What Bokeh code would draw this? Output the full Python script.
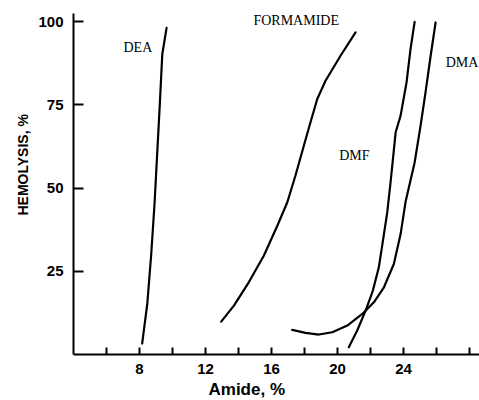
from bokeh.plotting import figure
from bokeh.models import FixedTicker, Label, Range1d, Title
from bokeh.embed import file_html
from bokeh.resources import INLINE

# ---- data ----
dea_x = [8.16, 8.47, 8.71, 8.91, 9.07, 9.23, 9.38, 9.64]
dea_y = [3.3, 15.2, 30.2, 45.3, 60.3, 75.3, 90.3, 98.2]

form_x = [12.95, 13.72, 14.62, 15.53, 16.35, 16.95, 17.45, 17.96, 18.36, 18.77, 19.27, 20.18, 21.09]
form_y = [9.9, 14.7, 21.7, 29.7, 38.7, 45.7, 53.8, 62.8, 69.8, 76.8, 82.3, 89.8, 96.8]

dmf_x = [20.68, 21.19, 21.70, 22.14, 22.50, 22.81, 23.01, 23.21, 23.52, 23.82, 24.18, 24.42, 24.67]
dmf_y = [2.2, 7.2, 13.2, 19.2, 26.2, 36.2, 42.7, 51.7, 66.8, 71.8, 81.8, 91.8, 100.0]

dma_x = [17.25, 18.06, 18.87, 19.68, 20.59, 21.50, 22.20, 22.81, 23.41, 23.82, 24.12,
         24.67, 25.03, 25.33, 25.64, 25.94]
dma_y = [7.4, 6.5, 6.0, 6.7, 8.7, 12.2, 15.7, 20.2, 27.2, 36.2, 45.9,
         57.7, 68.8, 78.8, 89.8, 99.8]

series_names = ["DEA", "FORMAMIDE", "DMF", "DMA"]
label_x = [7.03, 14.9, 20.1, 26.55]
label_y = [92.4, 100.3, 59.8, 87.7]

x_ticks = [6, 8, 10, 12, 14, 16, 18, 20, 22, 24, 26, 28]
x_tick_labels = ["", "8", "", "12", "", "16", "", "20", "", "24", "", ""]
y_ticks = [25, 50, 75, 100]
y_tick_labels = ["25", "50", "75", "100"]

x_title = "Amide, %"
y_title = "HEMOLYSIS, %"

# ---- figure ----
p = figure(width=479, height=400, output_backend="svg", toolbar_location=None,
           x_range=Range1d(4, 28.6), y_range=Range1d(0, 102.5),
           min_border_left=73, min_border_right=0, min_border_top=13,
           min_border_bottom=46)
p.outline_line_color = None
p.xgrid.visible = False
p.ygrid.visible = False

for ax in (p.xaxis[0], p.yaxis[0]):
    ax.axis_line_width = 2
    ax.axis_line_color = "black"
    ax.major_tick_line_width = 2
    ax.major_tick_line_color = "black"
    ax.major_tick_out = 0
    ax.minor_tick_line_color = None
    ax.major_label_text_font = "Liberation Sans"
    ax.major_label_text_font_style = "bold"
    ax.major_label_text_font_size = "15px"
    ax.major_label_text_color = "black"

p.xaxis[0].ticker = FixedTicker(ticks=x_ticks)
p.xaxis[0].major_label_overrides = {t: s for t, s in zip(x_ticks, x_tick_labels)}
p.xaxis[0].major_tick_in = 7
p.xaxis[0].major_label_standoff = 9

p.yaxis[0].ticker = FixedTicker(ticks=y_ticks)
p.yaxis[0].major_label_overrides = {t: s for t, s in zip(y_ticks, y_tick_labels)}
p.yaxis[0].major_tick_in = 10
p.yaxis[0].major_label_standoff = 10

for xs, ys in [(dea_x, dea_y), (form_x, form_y), (dmf_x, dmf_y), (dma_x, dma_y)]:
    p.line(xs, ys, line_color="black", line_width=2.2, line_join="round", line_cap="round")

for name, lx, ly in zip(series_names, label_x, label_y):
    p.add_layout(Label(x=lx, y=ly, text=name, text_font="Liberation Serif",
                       text_font_size="14px", text_color="black",
                       text_align="left", text_baseline="middle"))

p.add_layout(Title(text=x_title, align="left", offset=135, standoff=3,
                   text_font="Liberation Sans", text_font_style="bold",
                   text_font_size="17px", text_color="black"), "below")
p.add_layout(Title(text=y_title, align="left", offset=139, standoff=10,
                   text_font="Liberation Sans", text_font_style="bold",
                   text_font_size="14px", text_color="black"), "left")

open("out.html", "w").write(file_html(p, INLINE))
